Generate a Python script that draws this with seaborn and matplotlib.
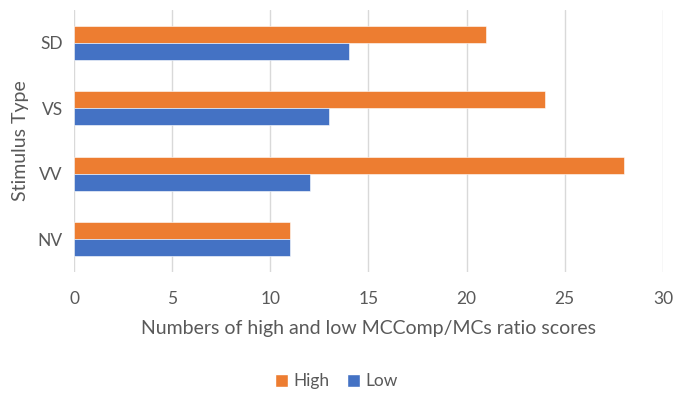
import matplotlib
matplotlib.use("Agg")
import matplotlib.pyplot as plt
import seaborn as sns
import pandas as pd
from matplotlib.patches import Patch

categories = ["SD", "VS", "VV", "NV"]
high = [21, 24, 28, 11]
low = [14, 13, 12, 11]
series = ["High", "Low"]
colors = {"High": "#ED7D31", "Low": "#4472C4"}

df = pd.DataFrame({
    "Stimulus Type": categories * 2,
    "value": high + low,
    "series": ["High"] * len(categories) + ["Low"] * len(categories),
})

sns.set_theme(style="white")
plt.rcParams["font.family"] = ["Lato", "DejaVu Sans"]
txt = "#595959"

fig = plt.figure(figsize=(6.73, 3.93), dpi=100)
ax = fig.add_axes([0.11, 0.308, 0.875, 0.667])
sns.barplot(data=df, y="Stimulus Type", x="value", hue="series",
            order=categories, hue_order=series, palette=colors,
            orient="h", width=0.52, ax=ax, legend=False, saturation=1,
            edgecolor="white", linewidth=0.4)

ax.set_xlim(0, 30)
ax.set_ylim(3.5, -0.5)
ax.set_xticks([0, 5, 10, 15, 20, 25, 30])
ax.xaxis.grid(True, color="#D9D9D9", linewidth=1)
ax.set_axisbelow(True)
for s in ax.spines.values():
    s.set_visible(False)
ax.tick_params(axis="both", length=0, colors=txt, labelsize=12.5)
ax.tick_params(axis="x", pad=14)
ax.tick_params(axis="y", pad=8)
ax.set_xlabel("Numbers of high and low MCComp/MCs ratio scores", color=txt, fontsize=14, labelpad=9)
ax.set_ylabel("Stimulus Type", color=txt, fontsize=14, labelpad=6)

handles = [Patch(facecolor=colors[s], label=s) for s in series]
leg = fig.legend(handles=handles, loc="center", bbox_to_anchor=(0.5, 0.03), ncol=2,
                 frameon=False, fontsize=12.5, handlelength=0.75, handleheight=0.75,
                 handletextpad=0.3, columnspacing=1.0)
for t in leg.get_texts():
    t.set_color(txt)

fig.savefig("out.png", dpi=100)
